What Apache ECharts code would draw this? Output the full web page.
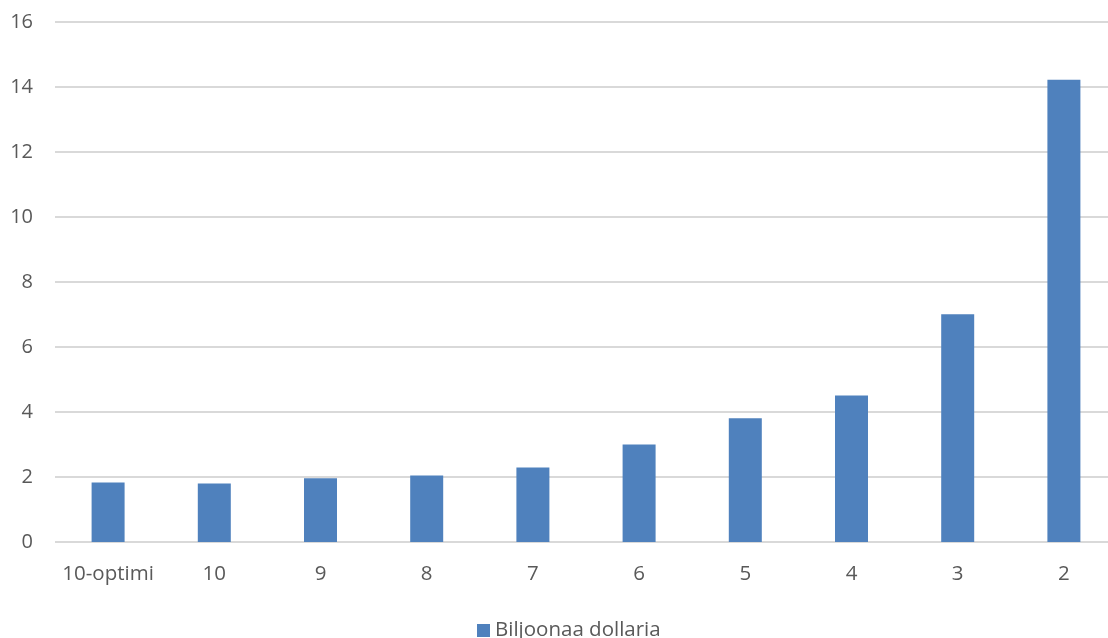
<!DOCTYPE html>
<html>
<head>
<meta charset="utf-8">
<script src="https://cdn.jsdelivr.net/npm/echarts@6/dist/echarts.min.js"></script>
<style>
  html, body { margin: 0; padding: 0; background: #ffffff; }
  #chart { width: 1108px; height: 638px; }
</style>
</head>
<body>
<div id="chart"></div>
<script>
// Categories along the x axis
const categories = ['10-optimi', '10', '9', '8', '7', '6', '5', '4', '3', '2'];
// Bar values (trillions of dollars)
const values = [1.83, 1.80, 1.96, 2.05, 2.29, 3.00, 3.81, 4.51, 7.01, 14.22];
const seriesName = 'Biljoonaa dollaria';

const chart = echarts.init(document.getElementById('chart'));
const textColor = '#595959';
const fontFamily = '"Open Sans", "Liberation Sans", sans-serif';

chart.setOption({
  animation: false,
  textStyle: { fontFamily: fontFamily },
  grid: {
    left: 55, width: 1062, top: 22, bottom: 96,
    containLabel: false,
    outerBoundsMode: 'none'
  },
  legend: {
    data: [seriesName],
    left: 472,
    top: 615,
    itemWidth: 13,
    itemHeight: 13,
    icon: 'rect',
    itemGap: 10,
    textStyle: { color: textColor, fontSize: 20.5, fontFamily: fontFamily }
  },
  xAxis: {
    type: 'category',
    data: categories,
    axisLine: { show: false },
    axisTick: { show: false },
    axisLabel: { color: textColor, fontSize: 20.5, margin: 22, interval: 0, fontFamily: fontFamily }
  },
  yAxis: {
    type: 'value',
    min: 0,
    max: 16,
    interval: 2,
    axisLine: { show: false },
    axisTick: { show: false },
    axisLabel: { color: textColor, fontSize: 20, margin: 22, fontFamily: fontFamily },
    splitLine: { lineStyle: { color: '#d9d9d9', width: 2 } }
  },
  series: [{
    name: seriesName,
    type: 'bar',
    data: values,
    barWidth: 33,
    itemStyle: { color: '#4f81bd' }
  }]
});
</script>
</body>
</html>
